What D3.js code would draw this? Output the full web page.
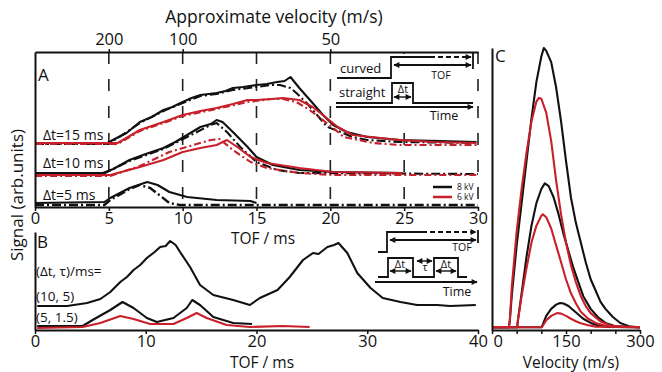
<!DOCTYPE html>
<html><head><meta charset="utf-8">
<script src="https://cdn.jsdelivr.net/npm/d3@7"></script>
<style>
body{margin:0;background:#fff}
svg{display:block}
text{font-family:"Open Sans",sans-serif;fill:#111}
</style>
</head><body><svg id="c" width="662" height="372"></svg>
<script>
// ---------- tick labels ----------
const velTicks = [200, 100, 50];
const tofTicksA = [0, 5, 10, 15, 20, 25, 30];
const tofTicksB = [0, 10, 20, 30, 40];
const velTicksC = [0, 50, 100, 150, 200, 250, 300];
const velLabelsC = [0, 150, 300];
const groupLabelsA = ["Δt=15 ms", "Δt=10 ms", "Δt=5 ms"];
const legendA = ["8 kV", "6 kV"];
const labelsB = ["(Δt, τ)/ms=", "(10, 5)", "(5, 1.5)"];

// ---------- panel A: [TOF ms, signal] ----------
const a15Black = [[0,6.4],[4.9,6.4],[5.4,6.8],[6.2,7.4],[7.1,8.5],[7.9,9.0],[8.7,9.7],[9.3,10.0],[10.0,10.5],[10.6,10.9],[11.2,11.2],[12.3,11.4],[12.9,11.6],[13.4,11.9],[14.1,12.0],[15.0,12.2],[15.7,12.3],[16.4,12.5],[16.9,12.6],[17.3,13.0],[17.9,11.9],[18.8,10.4],[19.5,9.2],[20.2,8.2],[21.1,7.5],[22.5,7.0],[24.7,6.7],[27.4,6.6],[29.9,6.5]];
const a15BlackFit = [[0,6.3],[4.9,6.3],[5.5,6.8],[7.1,8.4],[8.7,9.6],[10,10.4],[11.2,11.1],[12.3,11.3],[13.4,11.7],[15.0,12.0],[16.0,12.2],[16.6,12.2],[17.3,11.9],[17.7,11.4],[18.4,10.4],[19.1,9.2],[19.8,8.0],[20.7,7.5],[21.5,7.0],[22.5,6.7],[24.7,6.5],[30,6.4]];
const a15Red = [[0,6.4],[5.6,6.4],[6.3,7.0],[7.1,7.7],[8.7,8.5],[10.0,9.2],[11.2,9.6],[12.3,9.9],[13.4,10.3],[14.4,10.7],[15.0,10.7],[16.0,10.8],[16.8,10.9],[17.9,10.7],[18.8,10.0],[19.5,9.2],[20.5,8.0],[21.5,7.2],[23.4,6.9],[24.7,6.7],[27,6.5],[29.9,6.4]];
const a15RedFit = [[0,6.3],[5.6,6.3],[7.1,7.6],[8.7,8.4],[10,9.1],[12.3,9.8],[14.4,10.5],[16.0,10.8],[16.8,10.8],[17.7,10.5],[18.6,9.7],[19.3,8.9],[20.2,7.9],[20.9,7.0],[22.9,6.4],[24.7,6.2],[30,6.2]];
const a10Black = [[0,3.4],[4.6,3.4],[5.3,3.8],[6.4,4.7],[7.5,5.3],[8.7,5.9],[9.5,6.5],[10.3,7.2],[11.2,8.0],[11.9,8.3],[12.3,8.7],[12.7,8.5],[13.4,7.5],[14.4,6.0],[15.0,5.0],[16.1,4.2],[17.9,3.7],[20.2,3.5],[24.9,3.4]];
const a10BlackFit = [[0,3.3],[4.6,3.3],[6.4,4.6],[8.7,5.8],[10.3,7.0],[11.9,8.2],[12.3,8.4],[13.0,7.5],[13.9,6.0],[15.0,4.5],[16.4,3.7],[17.9,3.4],[30,3.3]];
const a10Red = [[0,3.2],[5.1,3.2],[7.1,4.0],[8.7,4.7],[10.0,5.5],[11.2,5.9],[12.3,6.2],[13.0,6.7],[13.7,6.0],[14.6,5.0],[15.7,4.4],[17.9,3.9],[20.2,3.5],[24.9,3.4]];
const a10RedFit = [[0,3.1],[5.1,3.1],[7.1,4.1],[9.1,5.5],[11.9,6.7],[12.5,6.8],[13.4,5.7],[14.6,4.5],[15.7,3.9],[17.9,3.4],[20.2,3.2],[30,3.2]];
const a5Black = [[0,0.4],[4.7,0.5],[5.1,0.9],[6.4,1.9],[7.6,2.5],[8.3,2.2],[9.1,1.5],[10.3,1.0],[12.3,0.7],[14.6,0.6],[15.0,0.4]];
const a5BlackFit = [[0,0.2],[4.7,0.2],[5.1,0.7],[6.4,1.8],[7.1,2.2],[7.8,1.9],[8.5,1.1],[9.1,0.4],[9.8,0.2],[30,0.2]];

// ---------- panel B: [TOF ms, signal] ----------
const b10_5 = [[0.2,2.4],[2.9,2.4],[4.7,2.7],[5.9,3.1],[6.8,3.8],[7.7,4.8],[8.3,5.3],[8.9,6.0],[9.5,6.5],[10.1,7.2],[10.8,7.8],[11.3,8.3],[11.8,8.4],[12.2,8.9],[12.7,8.5],[13.1,7.8],[14.0,6.3],[14.9,4.5],[16.1,3.5],[17.9,3.0],[19.4,2.5],[20.3,3.2],[21.9,4.0],[23.0,5.3],[24.2,7.0],[25.1,7.7],[25.6,7.6],[26.4,8.3],[27.0,8.5],[27.4,8.7],[28.2,7.7],[29.1,5.7],[30.3,4.2],[31.4,3.2],[33.0,2.8],[34.5,2.5],[36.3,2.5],[37.5,2.4],[39.8,2.5]];
const b5_15Black = [[0.2,0.4],[4.3,0.4],[5.2,1.0],[6.8,2.0],[7.9,2.8],[8.9,2.2],[10.1,1.2],[11.0,0.8],[12.5,1.2],[13.7,2.2],[14.2,3.0],[14.9,2.5],[16.1,1.3],[17.9,0.7],[19.6,0.6]];
const b5_15Red = [[0.2,0.2],[4.3,0.3],[5.9,0.7],[7.7,1.4],[8.9,1.1],[10.4,0.6],[12.5,0.6],[13.7,1.2],[14.6,1.7],[15.5,1.2],[17.3,0.5],[19.4,0.3],[22.4,0.4],[24.8,0.3]];

// ---------- panel C: [velocity m/s, signal] ----------
const c15Black = [[0,0.01],[34,0.01],[36,0.03],[40,0.12],[50,0.30],[60,0.45],[70,0.60],[80,0.75],[90,0.88],[100,0.97],[105,1.0],[110,0.99],[120,0.95],[130,0.86],[140,0.74],[150,0.60],[160,0.47],[170,0.38],[180,0.31],[190,0.24],[200,0.18],[210,0.14],[220,0.10],[230,0.075],[245,0.046],[260,0.025],[280,0.012],[300,0.01]];
const c15Red = [[0,0.01],[34,0.01],[36,0.03],[40,0.15],[50,0.35],[60,0.50],[70,0.63],[80,0.74],[90,0.81],[95,0.823],[100,0.82],[110,0.77],[120,0.67],[130,0.53],[140,0.41],[150,0.31],[160,0.23],[170,0.17],[180,0.12],[190,0.085],[200,0.06],[220,0.03],[240,0.016],[260,0.011],[300,0.01]];
const c10Black = [[0,0.01],[51,0.01],[53,0.04],[60,0.13],[70,0.26],[80,0.37],[90,0.45],[100,0.50],[107,0.52],[115,0.51],[125,0.47],[135,0.41],[145,0.34],[155,0.28],[165,0.22],[175,0.17],[185,0.12],[200,0.075],[215,0.045],[230,0.025],[250,0.013],[300,0.01]];
const c10Red = [[0,0.01],[51,0.01],[53,0.04],[60,0.12],[70,0.22],[80,0.31],[90,0.37],[100,0.405],[103,0.41],[110,0.40],[120,0.36],[130,0.30],[140,0.24],[150,0.18],[160,0.13],[170,0.095],[180,0.065],[195,0.04],[210,0.025],[230,0.015],[300,0.01]];
const c5Black = [[0,0.01],[101,0.01],[103,0.02],[110,0.05],[120,0.075],[130,0.09],[138,0.096],[145,0.094],[155,0.085],[165,0.07],[175,0.055],[185,0.04],[200,0.025],[215,0.016],[233,0.011],[300,0.01]];
const c5Red = [[0,0.01],[101,0.01],[103,0.015],[110,0.035],[120,0.05],[132,0.06],[140,0.058],[150,0.05],[160,0.04],[170,0.031],[180,0.024],[195,0.017],[210,0.012],[300,0.01]];

// ---------- setup ----------
const RED = "#c8202a", BLK = "#111";
const svg = d3.select("#c");
const defs = svg.append("defs");
defs.append("marker").attr("id","ah").attr("viewBox","0 0 10 10").attr("refX",9).attr("refY",5)
  .attr("markerUnits","userSpaceOnUse").attr("markerWidth",7).attr("markerHeight",6)
  .attr("orient","auto-start-reverse").append("path").attr("d","M0,0L10,5L0,10z").attr("fill",BLK);

const xA = d3.scaleLinear().domain([0,30]).range([35,478]);
const yA = d3.scaleLinear().domain([0,15.5]).range([207,52]);
const xB = d3.scaleLinear().domain([0,40]).range([35,478]);
const yB = d3.scaleLinear().domain([0,9.8]).range([330,232]);
const xC = d3.scaleLinear().domain([0,300]).range([492,640]);
const yC = d3.scaleLinear().domain([0,1]).range([330,48]);

function styleAxis(g, fs){
  g.select(".domain").attr("stroke",BLK).attr("stroke-width",2);
  g.selectAll(".tick line").attr("stroke",BLK).attr("stroke-width",1.5);
  g.selectAll(".tick text").attr("font-family","'Open Sans',sans-serif").attr("font-size",fs).attr("fill",BLK);
}
function plot(g, data, x, y, color, dash, w){
  g.append("path").datum(data).attr("fill","none").attr("stroke",color).attr("stroke-width",w||2.1)
   .attr("stroke-linejoin","round").attr("stroke-dasharray",dash||null)
   .attr("d", d3.line().x(d=>x(d[0])).y(d=>y(d[1])));
}

// ================= Panel A =================
const gA = svg.append("g");
gA.selectAll("line.grid").data(tofTicksA.filter(d=>d>0)).join("line")
  .attr("x1",d=>xA(d)).attr("x2",d=>xA(d)).attr("y1",52).attr("y2",207)
  .attr("stroke","#222").attr("stroke-width",1.6).attr("stroke-dasharray","12,15");
gA.append("rect").attr("x",334).attr("y",54).attr("width",140).attr("height",69).attr("fill","#fff");

plot(gA, a15Black, xA, yA, BLK);
plot(gA, a15BlackFit, xA, yA, BLK, "9,3,2,3");
plot(gA, a10Black, xA, yA, BLK);
plot(gA, a10BlackFit, xA, yA, BLK, "9,3,2,3");
plot(gA, a5Black, xA, yA, BLK);
plot(gA, a5BlackFit, xA, yA, BLK, "9,3,2,3", 2.4);
plot(gA, a15Red, xA, yA, RED);
plot(gA, a15RedFit, xA, yA, RED, "7,3,2,3");
plot(gA, a10Red, xA, yA, RED);
plot(gA, a10RedFit, xA, yA, RED, "7,3,2,3");

const axAb = gA.append("g").attr("transform","translate(0,207)")
  .call(d3.axisBottom(xA).tickValues(tofTicksA).tickSize(4).tickSizeOuter(0).tickPadding(1));
styleAxis(axAb, 16.5);
const axAt = gA.append("g").attr("transform","translate(0,52)")
  .call(d3.axisTop(xA).tickValues(velTicks.map(v=>1000/v)).tickFormat((d,i)=>velTicks[i]).tickSize(3).tickSizeOuter(0).tickPadding(4));
styleAxis(axAt, 16.5);
const axAl = gA.append("g").attr("transform","translate(35,0)")
  .call(d3.axisLeft(yA).tickValues([]).tickSizeOuter(0));
styleAxis(axAl, 17);
gA.append("text").attr("x",274).attr("y",23).attr("text-anchor","middle").attr("font-size",17.5).text("Approximate velocity (m/s)");
gA.append("text").attr("x",263).attr("y",244).attr("text-anchor","middle").attr("font-size",15.5).text("TOF / ms");
gA.append("text").attr("x",38).attr("y",81).attr("font-size",17).text("A");
gA.selectAll("text.grp").data(groupLabelsA).join("text").attr("class","grp")
  .attr("x",43).attr("y",(d,i)=>[140,168,200][i]).attr("font-size",14).text(d=>d);
[BLK, RED].forEach((c,i)=>{
  gA.append("line").attr("x1",433).attr("x2",452).attr("y1",187+i*10).attr("y2",187+i*10).attr("stroke",c).attr("stroke-width",2.5);
  gA.append("text").attr("x",457).attr("y",190+i*10).attr("font-size",8.5).text(legendA[i]);
});
const iA = gA.append("g").attr("fill","none").attr("stroke",BLK).attr("stroke-width",1.8);
iA.append("path").attr("d","M337,78H391V57H430");
iA.append("path").attr("d","M430,57H471").attr("stroke-dasharray","5,3").attr("marker-end","url(#ah)");
iA.append("path").attr("d","M394,65H471").attr("marker-start","url(#ah)").attr("marker-end","url(#ah)");
iA.append("path").attr("d","M473,53V69");
iA.append("path").attr("d","M336,103H392V83H413V103H473");
iA.append("path").attr("d","M394,97H411").attr("stroke-width",1.4).attr("marker-start","url(#ah)").attr("marker-end","url(#ah)");
iA.append("path").attr("d","M336,107H473").attr("marker-end","url(#ah)");
gA.append("text").attr("x",340).attr("y",73).attr("font-size",13).text("curved");
gA.append("text").attr("x",339).attr("y",97).attr("font-size",13).text("straight");
gA.append("text").attr("x",441).attr("y",79).attr("text-anchor","middle").attr("font-size",10.5).text("TOF");
gA.append("text").attr("x",444).attr("y",120).attr("text-anchor","middle").attr("font-size",12.5).text("Time");
gA.append("text").attr("x",403).attr("y",93).attr("text-anchor","middle").attr("font-size",11).text("Δt");

svg.append("text").attr("transform","translate(23,195) rotate(-90)").attr("text-anchor","middle").attr("font-size",17).text("Signal (arb.units)");

// ================= Panel B =================
const gB = svg.append("g");
plot(gB, b10_5, xB, yB, BLK);
plot(gB, b5_15Black, xB, yB, BLK);
plot(gB, b5_15Red, xB, yB, RED);
const axBb = gB.append("g").attr("transform","translate(0,330)")
  .call(d3.axisBottom(xB).tickValues(tofTicksB).tickSize(4).tickSizeOuter(0).tickPadding(1));
styleAxis(axBb, 16.5);
const axBl = gB.append("g").attr("transform","translate(35,0)")
  .call(d3.axisLeft(yB).tickValues([]).tickSizeOuter(0));
styleAxis(axBl, 17);
gB.append("text").attr("x",262).attr("y",368).attr("text-anchor","middle").attr("font-size",15.5).text("TOF / ms");
gB.append("text").attr("x",37).attr("y",248).attr("font-size",17).text("B");
gB.selectAll("text.lb").data(labelsB).join("text").attr("class","lb")
  .attr("x",36).attr("y",(d,i)=>[276,301,322][i]).attr("font-size",13.5).text(d=>d);
const iB = gB.append("g").attr("fill","none").attr("stroke",BLK).attr("stroke-width",1.8);
iB.append("path").attr("d","M378,252H387V232H422");
iB.append("path").attr("d","M422,232H476").attr("stroke-dasharray","5,3").attr("marker-end","url(#ah)");
iB.append("path").attr("d","M390,240H476").attr("marker-start","url(#ah)").attr("marker-end","url(#ah)");
iB.append("path").attr("d","M478,230V243");
iB.append("path").attr("d","M378,277H388V258H413V277H434V258H458V277H467");
iB.append("path").attr("d","M390,271H411").attr("stroke-width",1.4).attr("marker-start","url(#ah)").attr("marker-end","url(#ah)");
iB.append("path").attr("d","M436,271H456").attr("stroke-width",1.4).attr("marker-start","url(#ah)").attr("marker-end","url(#ah)");
iB.append("path").attr("d","M417,261H432").attr("stroke-width",1.4).attr("marker-start","url(#ah)").attr("marker-end","url(#ah)");
iB.append("path").attr("d","M375,282H477").attr("marker-end","url(#ah)");
gB.append("text").attr("x",462).attr("y",251).attr("text-anchor","middle").attr("font-size",10.5).text("TOF");
gB.append("text").attr("x",457).attr("y",296).attr("text-anchor","middle").attr("font-size",12.5).text("Time");
gB.append("text").attr("x",400).attr("y",268).attr("text-anchor","middle").attr("font-size",11).text("Δt");
gB.append("text").attr("x",446).attr("y",268).attr("text-anchor","middle").attr("font-size",11).text("Δt");
gB.append("text").attr("x",425).attr("y",271).attr("text-anchor","middle").attr("font-size",11).text("τ");

// ================= Panel C =================
const gC = svg.append("g");
plot(gC, c15Black, xC, yC, BLK);
plot(gC, c10Black, xC, yC, BLK);
plot(gC, c5Black, xC, yC, BLK);
plot(gC, c15Red, xC, yC, RED);
plot(gC, c10Red, xC, yC, RED);
plot(gC, c5Red, xC, yC, RED);
const axCb = gC.append("g").attr("transform","translate(0,330)")
  .call(d3.axisBottom(xC).tickValues(velTicksC).tickFormat(d=>velLabelsC.includes(d)?d:"").tickSize(4).tickSizeOuter(0).tickPadding(1));
styleAxis(axCb, 16.5);
axCb.selectAll(".tick text").filter(d=>d===0).attr("text-anchor","start").attr("dx",1);
const axCl = gC.append("g").attr("transform","translate(492,0)")
  .call(d3.axisLeft(yC).tickValues([]).tickSizeOuter(0));
styleAxis(axCl, 17);
gC.append("text").attr("x",571).attr("y",368).attr("text-anchor","middle").attr("font-size",15.5).text("Velocity (m/s)");
gC.append("text").attr("x",495).attr("y",62).attr("font-size",17).text("C");
</script></body></html>
